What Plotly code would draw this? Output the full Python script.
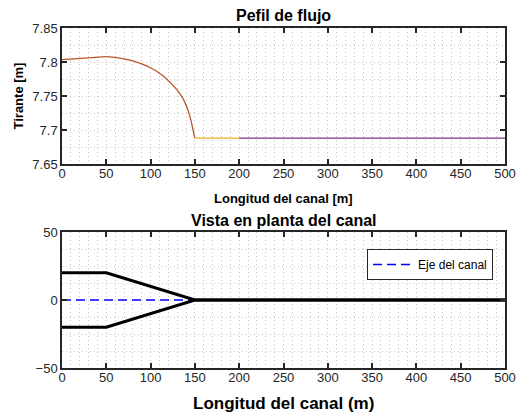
import plotly.graph_objects as go
from plotly.subplots import make_subplots

# ---- data ----
lin_x = [0, 50]
lin_y = [7.8035, 7.808]
curve_x = [50, 60, 70, 80, 90, 100, 110, 115, 120, 125, 130, 135, 138, 141, 144, 146, 148, 150]
curve_y = [7.808, 7.8068, 7.8047, 7.8015, 7.7972, 7.7915, 7.7835, 7.7785, 7.7725, 7.766,
           7.7585, 7.7495, 7.7425, 7.7335, 7.7215, 7.7115, 7.6995, 7.688]
seg2_x = [150, 200]
seg2_y = [7.688, 7.688]
seg3_x = [200, 500]
seg3_y = [7.688, 7.688]

axis_x = [0, 500]
axis_y = [0, 0]
bank_top_x = [0, 50, 150, 500]
bank_top_y = [20, 20, 0, 0]
bank_bot_x = [0, 50, 150, 500]
bank_bot_y = [-20, -20, 0, 0]

top_yticks = [7.65, 7.7, 7.75, 7.8, 7.85]
top_yticklabels = ["7.65", "7.7", "7.75", "7.8", "7.85"]
bot_yticks = [-50, 0, 50]
xticks = [0, 50, 100, 150, 200, 250, 300, 350, 400, 450, 500]

FONT = "Liberation Sans, Arial, sans-serif"
AX = "#262626"
GRID = "#c8c8c8"
CURVE = "#B8552B"

fig = make_subplots(rows=2, cols=1, vertical_spacing=0.2)

fig.add_trace(go.Scatter(x=lin_x, y=lin_y, mode="lines",
                         line=dict(color=CURVE, width=1.3), showlegend=False), 1, 1)
fig.add_trace(go.Scatter(x=curve_x, y=curve_y, mode="lines",
                         line=dict(color=CURVE, width=1.3, shape="spline", smoothing=0.6),
                         showlegend=False), 1, 1)
fig.add_trace(go.Scatter(x=seg2_x, y=seg2_y, mode="lines",
                         line=dict(color="#EDB120", width=1.3), showlegend=False), 1, 1)
fig.add_trace(go.Scatter(x=seg3_x, y=seg3_y, mode="lines",
                         line=dict(color="#7E2F8E", width=1.3), showlegend=False), 1, 1)

fig.add_trace(go.Scatter(x=axis_x, y=axis_y, mode="lines", name="Eje del canal",
                         line=dict(color="#0000FF", width=1.3, dash="9px,5px"),
                         showlegend=True), 2, 1)
fig.add_trace(go.Scatter(x=bank_top_x, y=bank_top_y, mode="lines",
                         line=dict(color="black", width=3), showlegend=False), 2, 1)
fig.add_trace(go.Scatter(x=bank_bot_x, y=bank_bot_y, mode="lines",
                         line=dict(color="black", width=3), showlegend=False), 2, 1)

common_ax = dict(showline=True, linecolor=AX, linewidth=1.5, mirror="ticks",
                 ticks="inside", ticklen=5, tickwidth=1.5, tickcolor=AX,
                 showgrid=True, gridcolor=GRID, griddash="1px,3px", gridwidth=1,
                 zeroline=False, automargin=False,
                 tickfont=dict(family=FONT, size=13, color=AX))

fig.update_xaxes(range=[0, 500], tickvals=xticks, ticklabelstandoff=-3,
                 minor=dict(dtick=10, tick0=0, showgrid=True, gridcolor=GRID,
                            griddash="1px,3px", ticks=""),
                 **common_ax)
fig.update_yaxes(range=[7.65, 7.85], tickvals=top_yticks, ticktext=top_yticklabels,
                 minor=dict(dtick=0.025, tick0=7.65, showgrid=True, gridcolor=GRID,
                            griddash="1px,3px", ticks=""),
                 row=1, col=1, **common_ax)
fig.update_yaxes(range=[-50, 50], tickvals=bot_yticks,
                 minor=dict(dtick=12.5, tick0=-50, showgrid=True, gridcolor=GRID,
                            griddash="1px,3px", ticks=""),
                 row=2, col=1, **common_ax)

fig.update_layout(
    width=518, height=413,
    margin=dict(l=62, r=13, t=28, b=45, autoexpand=False),
    paper_bgcolor="white", plot_bgcolor="white",
    font=dict(family=FONT, color=AX),
    yaxis=dict(domain=[0.6, 1.0]),
    yaxis2=dict(domain=[0.0, 0.4]),
    legend=dict(x=0.973, xanchor="right", y=0.35, yanchor="top",
                bgcolor="white", bordercolor=AX, borderwidth=1,
                font=dict(family=FONT, size=12, color="black"),
                tracegroupgap=0, itemwidth=40),
)

def px_to_paper_y(py):
    return (368 - py) / 340.0

def px_to_paper_x(px):
    return (px - 62) / 443.0

annots = [
    dict(text="<b>Pefil de flujo</b>", x=px_to_paper_x(283.5), y=px_to_paper_y(15.5), size=16),
    dict(text="<b>Vista en planta del canal</b>", x=px_to_paper_x(283.5), y=px_to_paper_y(220.5), size=16),
    dict(text="<b>Longitud del canal [m]</b>", x=px_to_paper_x(283.5), y=px_to_paper_y(198.5), size=13),
    dict(text="<b>Longitud del canal (m)</b>", x=px_to_paper_x(283.5), y=px_to_paper_y(403.5), size=17),
]
for a in annots:
    fig.add_annotation(text=a["text"], x=a["x"], y=a["y"], xref="paper", yref="paper",
                       xanchor="center", yanchor="middle", showarrow=False,
                       font=dict(family=FONT, size=a["size"], color="black"))
fig.add_annotation(text="<b>Tirante [m]</b>", x=px_to_paper_x(18.5), y=px_to_paper_y(96),
                   xref="paper", yref="paper", xanchor="center", yanchor="middle",
                   showarrow=False, textangle=-90,
                   font=dict(family=FONT, size=13, color="black"))

fig.write_html("out.html", config={"displayModeBar": False},
               post_script="document.body.style.margin='0px';document.body.style.padding='0px';")
